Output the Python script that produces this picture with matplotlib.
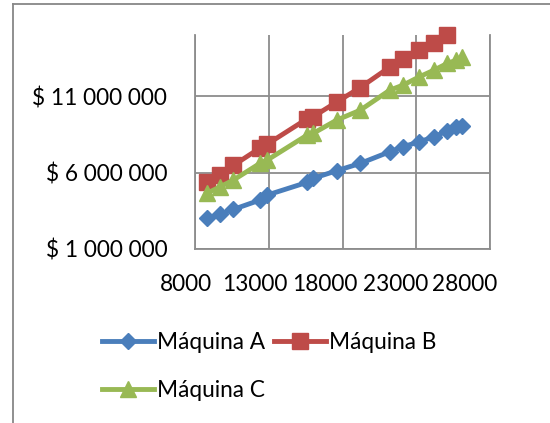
import matplotlib
matplotlib.use("Agg")
import matplotlib.pyplot as plt
from matplotlib.lines import Line2D
from matplotlib.ticker import FuncFormatter
import matplotlib.transforms as mtransforms

plt.rcParams['font.family'] = ['Lato', 'DejaVu Sans']

# Data
cantidad = [8800, 9700, 10600, 12400, 12900, 15600, 16000, 17600, 19200,
            21200, 22100, 23200, 24200, 25100, 25700, 26100]
maquina_a = [3.00e6, 3.29e6, 3.59e6, 4.20e6, 4.53e6, 5.36e6, 5.62e6, 6.12e6,
             6.60e6, 7.36e6, 7.69e6, 8.01e6, 8.34e6, 8.73e6, 8.95e6, 9.04e6]
maquina_b = [5.40e6, 5.84e6, 6.47e6, 7.60e6, 7.86e6, 9.52e6, 9.65e6, 10.61e6,
             11.56e6, 12.90e6, 13.42e6, 14.00e6, 14.48e6, 14.99e6]
maquina_c = [4.64e6, 5.07e6, 5.51e6, 6.60e6, 6.82e6, 8.45e6, 8.56e6, 9.43e6,
             10.08e6, 11.39e6, 11.72e6, 12.26e6, 12.70e6, 13.14e6, 13.35e6, 13.57e6]
series_names = ['Máquina A', 'Máquina B', 'Máquina C']
x_ticks = [8000, 13000, 18000, 23000, 28000]
y_ticks = [1e6, 6e6, 11e6]

W, H = 550, 423
fig = plt.figure(figsize=(5.5, 4.23), dpi=100)
ax = fig.add_axes([195 / W, 1 - 249 / H, (490 - 195) / W, (249 - 35) / H])

blue, red, green = '#4A7EBB', '#BE4B48', '#98B954'
la, = ax.plot(cantidad, maquina_a, color=blue, lw=3.5, marker='D', ms=7.8,
              label=series_names[0], clip_on=False, zorder=3)
lb, = ax.plot(cantidad[:len(maquina_b)], maquina_b, color=red, lw=3.5, marker='s', ms=12,
              label=series_names[1], clip_on=False, zorder=3)
lc, = ax.plot(cantidad, maquina_c, color=green, lw=3.5, marker='^', ms=12,
              label=series_names[2], clip_on=False, zorder=3)

ax.set_xlim(8000, 28000)
ax.set_ylim(1e6, 15e6)
ax.set_xticks(x_ticks)
ax.set_yticks(y_ticks)
ax.yaxis.set_major_formatter(FuncFormatter(lambda v, p: '$ ' + f'{int(v):,}'.replace(',', ' ')))
ax.xaxis.set_major_formatter(FuncFormatter(lambda v, p: f'{int(v)}'))

FS = 16.3
grid_c = '#8C8C8C'
ax.grid(True, color=grid_c, lw=1.3, zorder=0)
for s in ['left', 'bottom', 'right']:
    ax.spines[s].set_color(grid_c)
    ax.spines[s].set_linewidth(1.3)
ax.spines['top'].set_visible(False)
ax.tick_params(length=0, labelsize=FS, colors='black')
ax.tick_params(axis='y', pad=20)
ax.tick_params(axis='x', pad=18)

# Shift x tick labels like Excel does
offsets = [-9.5, -14, -18, -20.5, -25]
for lab, off in zip(ax.get_xticklabels(), offsets):
    lab.set_transform(lab.get_transform() + mtransforms.ScaledTranslation(off / 100, 0, fig.dpi_scale_trans))

# Row-major order: A, B on first row; C on second
fig.legend([la, lc, lb], [series_names[0], series_names[2], series_names[1]],
           loc='upper left', bbox_to_anchor=(102 / W, 1 - 332 / H), ncol=2,
           frameon=False, fontsize=FS, handlelength=2.3, handletextpad=0.15,
           columnspacing=0.35, labelspacing=1.2, borderpad=0, borderaxespad=0)

# Chart outer border
fig.add_artist(Line2D([13 / W, 1], [1 - 4 / H, 1 - 4 / H], color='#878787', lw=1.3))
fig.add_artist(Line2D([13 / W, 13 / W], [0, 1 - 4 / H], color='#878787', lw=1.3))

fig.savefig('out.png', dpi=100)
